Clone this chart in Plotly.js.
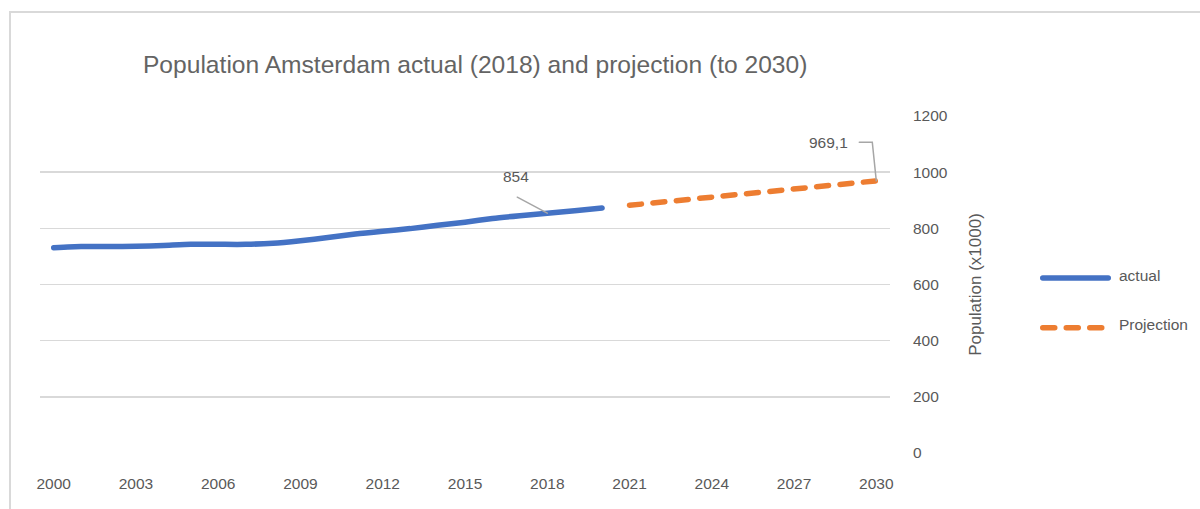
<!DOCTYPE html>
<html>
<head>
<meta charset="utf-8">
<script src="https://cdn.plot.ly/plotly-3.0.1.min.js"></script>
<style>
  html, body { margin: 0; padding: 0; background: #fff; overflow: hidden; }
  #chart { width: 1200px; height: 509px; position: absolute; left: 0; top: 0; }
  #frame { position: absolute; left: 9px; top: 11px; width: 1400px; height: 700px;
           border: 2px solid #d9d9d9; pointer-events: none; }
  .scatterlayer .js-line, .shapelayer path { stroke-linecap: round; }
</style>
</head>
<body>
<div id="chart"></div>
<div id="frame"></div>
<script>
// ---- data ----
const actualYears = [2000,2001,2002,2003,2004,2005,2006,2007,2008,2009,2010,2011,2012,2013,2014,2015,2016,2017,2018,2019,2020];
const actualValues = [731,735,735,736,739,743,743,743,747,756,767,780,790,799,811,822,835,845,854,863,872];
const projectionYears = [2021,2022,2023,2024,2025,2026,2027,2028,2029,2030];
const projectionValues = [882,892,902,912,922,932,942,951,960,969.1];
const xTickYears = [2000,2003,2006,2009,2012,2015,2018,2021,2024,2027,2030];
const yTickValues = [0,200,400,600,800,1000,1200];
const seriesNames = ['actual','Projection'];
const chartTitle = 'Population Amsterdam actual (2018) and projection (to 2030)';
const yAxisTitle = 'Population (x1000)';
const labelYear = 2018;

const BLUE = '#4472C4', ORANGE = '#ED7D31', TXT = '#595959', GRID = '#d9d9d9', LEAD = '#a6a6a6';
const FONT = 'Liberation Sans, Arial, sans-serif';

const iLabel = actualYears.indexOf(labelYear);
const labelVal = actualValues[iLabel];
const lastYear = projectionYears[projectionYears.length - 1];
const lastVal = projectionValues[projectionValues.length - 1];

const traces = [
  { x: actualYears, y: actualValues, type: 'scatter', mode: 'lines', name: seriesNames[0],
    line: { color: BLUE, width: 5.5, shape: 'spline', smoothing: 0.6 }, showlegend: false, hoverinfo: 'skip' },
  { x: projectionYears, y: projectionValues, type: 'scatter', mode: 'lines', name: seriesNames[1],
    line: { color: ORANGE, width: 5.5, dash: '12px,11.5px' }, showlegend: false, hoverinfo: 'skip' }
];

const px2paperX = p => (p - 40) / 850;
const px2paperY = p => (452.7 - p) / 336;

const layout = {
  width: 1200, height: 509,
  margin: { l: 40, r: 310, t: 116, b: 56.3 },
  paper_bgcolor: '#fff', plot_bgcolor: '#fff',
  font: { family: FONT, color: TXT, size: 15.5 },
  title: { text: chartTitle, x: 0.396, xanchor: 'center', y: 1 - 64.5 / 509, yanchor: 'middle',
           font: { family: FONT, size: 24.6, color: '#646464' } },
  xaxis: { range: [1999.5, 2030.5], tickmode: 'array', tickvals: xTickYears, ticktext: xTickYears.map(String),
           showgrid: false, zeroline: false, showline: false, ticks: '', ticklabelstandoff: 19,
           tickfont: { family: FONT, size: 15.5, color: TXT }, fixedrange: true },
  yaxis: { range: [0, 1200], side: 'right', tickmode: 'array', tickvals: yTickValues,
           showgrid: true, gridcolor: GRID, gridwidth: 1.5, zeroline: false, showline: false, ticks: '',
           ticklabelstandoff: 22, tickfont: { family: FONT, size: 15.5, color: TXT },
           title: { text: yAxisTitle, font: { family: FONT, size: 17, color: TXT }, standoff: 22 },
           fixedrange: true },
  shapes: [
    // leader lines anchored at data points
    { type: 'path', xref: 'x', yref: 'y', xsizemode: 'pixel', ysizemode: 'pixel',
      xanchor: labelYear, yanchor: labelVal, path: 'M0,0 L-30,16', line: { color: LEAD, width: 1.5 } },
    { type: 'path', xref: 'x', yref: 'y', xsizemode: 'pixel', ysizemode: 'pixel',
      xanchor: lastYear, yanchor: lastVal, path: 'M0,0 L-4,38.7 L-17,38.7', line: { color: LEAD, width: 1.5 } },
    // legend symbols
    { type: 'line', xref: 'paper', yref: 'paper', x0: px2paperX(1042.75), x1: px2paperX(1108.25),
      y0: px2paperY(278.3), y1: px2paperY(278.3), line: { color: BLUE, width: 5.5 } },
    { type: 'line', xref: 'paper', yref: 'paper', x0: px2paperX(1042.75), x1: px2paperX(1101.75),
      y0: px2paperY(327.7), y1: px2paperY(327.7), line: { color: ORANGE, width: 5.5, dash: '12px,11.5px' } }
  ],
  annotations: [
    { x: labelYear, y: labelVal, xref: 'x', yref: 'y', text: String(labelVal), showarrow: false,
      xshift: -31, yshift: 37, font: { family: FONT, size: 15.5, color: TXT } },
    { x: lastYear, y: lastVal, xref: 'x', yref: 'y', text: String(lastVal).replace('.', ','), showarrow: false,
      xanchor: 'right', xshift: -26, yshift: 38.7, font: { family: FONT, size: 15.5, color: TXT } },
    { x: px2paperX(1117), y: px2paperY(276), xref: 'paper', yref: 'paper', xanchor: 'left', yanchor: 'middle',
      text: seriesNames[0], showarrow: false, font: { family: FONT, size: 15.5, color: TXT } },
    { x: px2paperX(1117), y: px2paperY(325), xref: 'paper', yref: 'paper', xanchor: 'left', yanchor: 'middle',
      text: seriesNames[1], showarrow: false, font: { family: FONT, size: 15.5, color: TXT } }
  ]
};

Plotly.newPlot('chart', traces, layout, { displayModeBar: false, staticPlot: true });
</script>
</body>
</html>
